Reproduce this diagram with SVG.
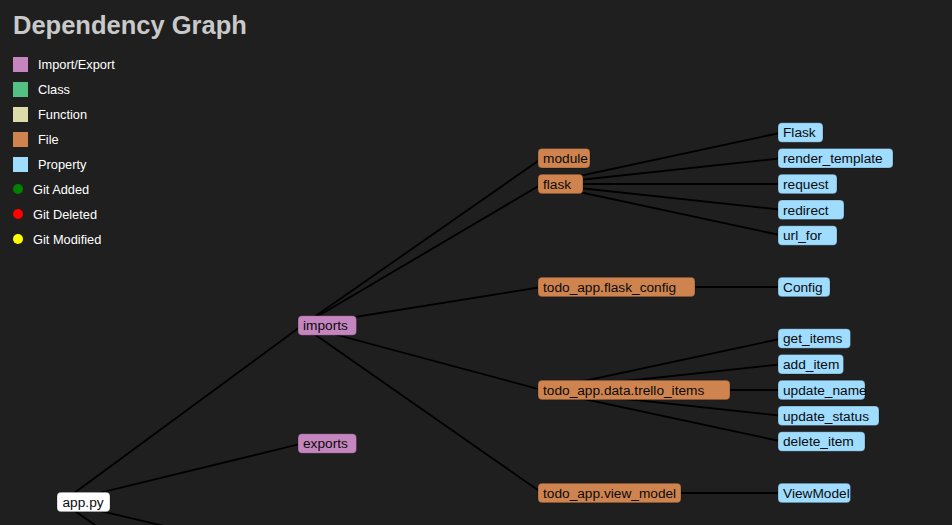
<svg xmlns="http://www.w3.org/2000/svg" width="952" height="525" viewBox="0 0 952 525">
<style>
.bg{fill:#1f1f1f}
.title{font-family:"Liberation Sans",Arial,sans-serif;font-weight:bold;font-size:25.5px;fill:#c9c9c9}
.lg{font-family:"Liberation Sans",Arial,sans-serif;font-size:12.8px;fill:#ffffff}
.n rect{stroke:#000;stroke-opacity:0.25;stroke-width:1}
.n text{font-family:"Liberation Sans",Arial,sans-serif;font-size:13.7px;fill:#0a0a0a}
.ie rect{fill:#c586c0}
.file rect{fill:#cf8450}
.prop rect{fill:#9fdcfe}
.root rect{fill:#ffffff}
.edges line{stroke:#000;stroke-width:1.8}
</style>
<rect class="bg" x="0" y="0" width="952" height="525"/>
<text class="title" x="13" y="34">Dependency Graph</text>
<g id="legend">
<rect x="13" y="57" width="15" height="15" fill="#c586c0"/><text class="lg" x="38" y="69">Import/Export</text>
<rect x="13" y="82" width="15" height="15" fill="#55c083"/><text class="lg" x="38" y="94">Class</text>
<rect x="13" y="107" width="15" height="15" fill="#dcdcaa"/><text class="lg" x="38" y="119">Function</text>
<rect x="13" y="132" width="15" height="15" fill="#cf8450"/><text class="lg" x="38" y="144">File</text>
<rect x="13" y="157" width="15" height="15" fill="#9fdcfe"/><text class="lg" x="38" y="169">Property</text>
<circle cx="18" cy="189" r="5" fill="#008000"/><text class="lg" x="33" y="194">Git Added</text>
<circle cx="18" cy="214" r="5" fill="#ff0000"/><text class="lg" x="33" y="219">Git Deleted</text>
<circle cx="18" cy="239" r="5" fill="#ffff00"/><text class="lg" x="33" y="244">Git Modified</text>
</g>
<g class="edges" id="edges">
<line x1="62" y1="502" x2="302" y2="325.5"/>
<line x1="62" y1="502" x2="302" y2="443.5"/>
<line x1="62" y1="502" x2="128" y2="548"/>
<line x1="62" y1="502" x2="258" y2="548"/>
<line x1="302" y1="325.5" x2="542" y2="158.25"/>
<line x1="302" y1="325.5" x2="542" y2="184"/>
<line x1="302" y1="325.5" x2="542" y2="287"/>
<line x1="302" y1="325.5" x2="542" y2="390"/>
<line x1="302" y1="325.5" x2="542" y2="493"/>
<line x1="542" y1="184" x2="782" y2="132.5"/>
<line x1="542" y1="184" x2="782" y2="158.25"/>
<line x1="542" y1="184" x2="782" y2="184"/>
<line x1="542" y1="184" x2="782" y2="209.75"/>
<line x1="542" y1="184" x2="782" y2="235.5"/>
<line x1="542" y1="287" x2="782" y2="287"/>
<line x1="542" y1="390" x2="782" y2="338.5"/>
<line x1="542" y1="390" x2="782" y2="364.25"/>
<line x1="542" y1="390" x2="782" y2="390"/>
<line x1="542" y1="390" x2="782" y2="415.75"/>
<line x1="542" y1="390" x2="782" y2="441.5"/>
<line x1="542" y1="493" x2="782" y2="493"/>
</g>
<g id="n-app" class="n root"><rect x="57" y="492.25" width="53" height="19.5" rx="4"/><text x="62.5" y="506.75">app.py</text></g>
<g id="n-imports" class="n ie"><rect x="298" y="315.75" width="58.5" height="19.5" rx="4"/><text x="303" y="330.25">imports</text></g>
<g id="n-exports" class="n ie"><rect x="298" y="433.75" width="58.5" height="19.5" rx="4"/><text x="303" y="448.25">exports</text></g>
<g id="n-module" class="n file"><rect x="538" y="148.5" width="52" height="19.5" rx="4"/><text x="543" y="163">module</text></g>
<g id="n-flask" class="n file"><rect x="538" y="174.25" width="45" height="19.5" rx="4"/><text x="543" y="188.75">flask</text></g>
<g id="n-flask_config" class="n file"><rect x="538" y="277.25" width="157" height="19.5" rx="4"/><text x="543" y="291.75">todo_app.flask_config</text></g>
<g id="n-trello_items" class="n file"><rect x="538" y="380.25" width="192" height="19.5" rx="4"/><text x="543" y="394.75">todo_app.data.trello_items</text></g>
<g id="n-view_model" class="n file"><rect x="538" y="483.25" width="143" height="19.5" rx="4"/><text x="543" y="497.75">todo_app.view_model</text></g>
<g id="n-Flask" class="n prop"><rect x="778" y="122.75" width="45" height="19.5" rx="4"/><text x="783" y="137.25">Flask</text></g>
<g id="n-render_template" class="n prop"><rect x="778" y="148.5" width="115" height="19.5" rx="4"/><text x="783" y="163">render_template</text></g>
<g id="n-request" class="n prop"><rect x="778" y="174.25" width="59" height="19.5" rx="4"/><text x="783" y="188.75">request</text></g>
<g id="n-redirect" class="n prop"><rect x="778" y="200" width="66" height="19.5" rx="4"/><text x="783" y="214.5">redirect</text></g>
<g id="n-url_for" class="n prop"><rect x="778" y="225.75" width="59" height="19.5" rx="4"/><text x="783" y="240.25">url_for</text></g>
<g id="n-Config" class="n prop"><rect x="778" y="277.25" width="52" height="19.5" rx="4"/><text x="783" y="291.75">Config</text></g>
<g id="n-get_items" class="n prop"><rect x="778" y="328.75" width="72.5" height="19.5" rx="4"/><text x="783" y="343.25">get_items</text></g>
<g id="n-add_item" class="n prop"><rect x="778" y="354.5" width="65.5" height="19.5" rx="4"/><text x="783" y="369">add_item</text></g>
<g id="n-update_name" class="n prop"><rect x="778" y="380.25" width="87" height="19.5" rx="4"/><text x="783" y="394.75">update_name</text></g>
<g id="n-update_status" class="n prop"><rect x="778" y="406" width="101" height="19.5" rx="4"/><text x="783" y="420.5">update_status</text></g>
<g id="n-delete_item" class="n prop"><rect x="778" y="431.75" width="87" height="19.5" rx="4"/><text x="783" y="446.25">delete_item</text></g>
<g id="n-ViewModel" class="n prop"><rect x="778" y="483.25" width="72.5" height="19.5" rx="4"/><text x="783" y="497.75">ViewModel</text></g>
</svg>
